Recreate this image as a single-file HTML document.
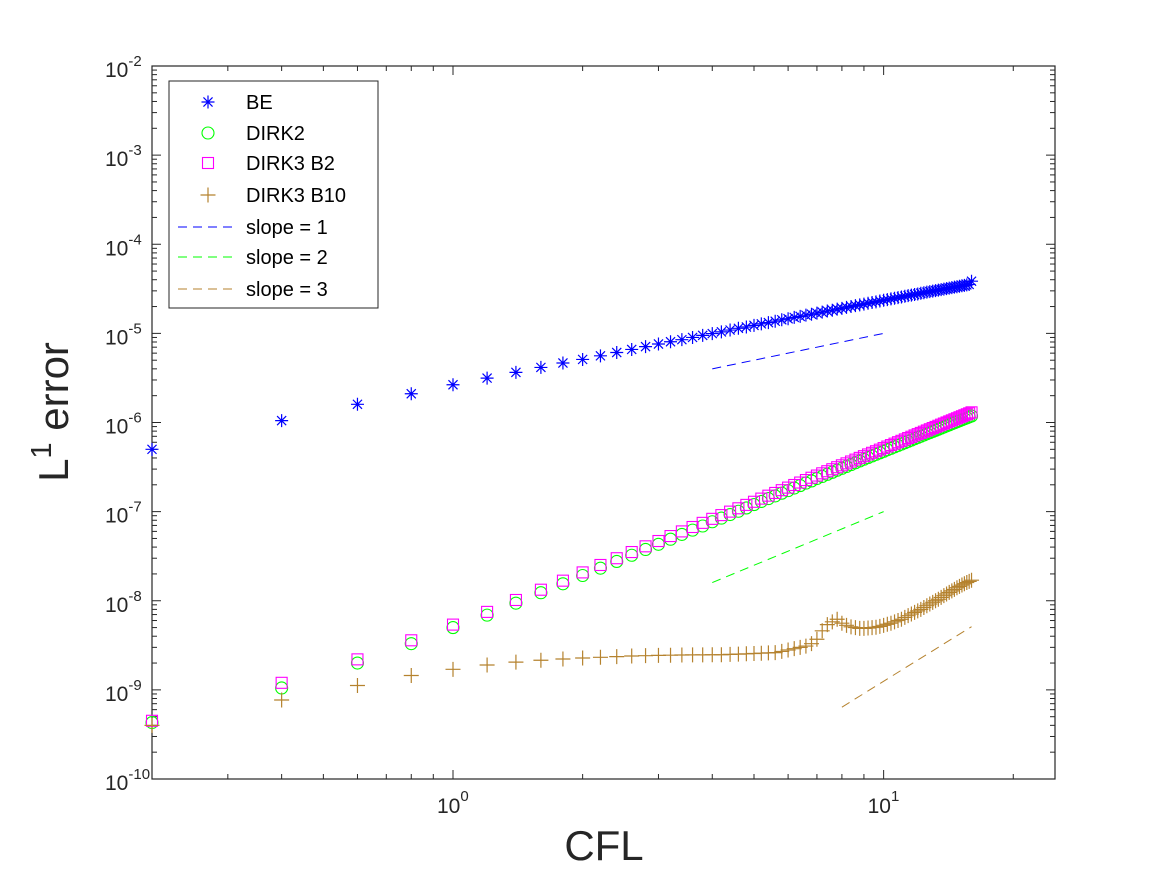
<!DOCTYPE html>
<html><head><meta charset="utf-8"><style>
html,body{margin:0;padding:0;background:#fff;}
svg{display:block;font-family:"Liberation Sans",Arial,sans-serif;}
</style></head><body>
<svg id="chart" width="1167" height="875" viewBox="0 0 1167 875" xmlns="http://www.w3.org/2000/svg">
<rect x="0" y="0" width="1167" height="875" fill="#fff"/>
<g id="plot"></g>
</svg>
<script>
const cfl = [0.2,0.4,0.6,0.8,1.0,1.2,1.4,1.6,1.8,2.0,2.2,2.4,2.6,2.8,3.0,3.2,3.4,3.6,3.8,4.0,4.2,4.4,4.6,4.8,5.0,5.2,5.4,5.6,5.8,6.0,6.2,6.4,6.6,6.8,7.0,7.2,7.4,7.6,7.8,8.0,8.2,8.4,8.6,8.8,9.0,9.2,9.4,9.6,9.8,10.0,10.2,10.4,10.6,10.8,11.0,11.2,11.4,11.6,11.8,12.0,12.2,12.4,12.6,12.8,13.0,13.2,13.4,13.6,13.8,14.0,14.2,14.4,14.6,14.8,15.0,15.2,15.4,15.6,15.8,16.0];
// BE in units of 1e-6
const beVals = [0.5,1.05,1.6,2.1,2.65,3.15,3.65,4.15,4.65,5.1,5.6,6.1,6.6,7.1,7.6,8.05,8.5,9.0,9.5,9.95,10.4,10.9,11.4,11.8,12.3,12.8,13.2,13.7,14.2,14.6,15.1,15.5,16.0,16.4,16.9,17.3,17.8,18.2,18.7,19.1,19.6,20.0,20.5,20.9,21.3,21.8,22.2,22.6,23.1,23.5,23.9,24.4,24.8,25.2,25.6,26.1,26.5,26.9,27.3,27.7,28.2,28.6,29.0,29.4,29.8,30.2,30.6,31.0,31.4,31.8,32.2,32.6,33.0,33.4,33.8,34.2,34.6,35.0,35.4,38.5];
// DIRK2 in units of 1e-9
const dirk2Vals = [0.43,1.05,2.0,3.3,5.0,6.9,9.4,12.3,15.5,19.2,23.2,27.6,32.4,37.6,43,49,55.5,62,69,77,84.6,92.8,101,110,120,130,140,150,161,172,184,196,209,221,235,248,262,276,291,306,321,337,353,370,387,404,421,439,457,475,494,513,532,552,572,593,614,635,657,679,701,724,747,770,793,817,841,866,891,916,942,968,994,1020,1047,1074,1101,1128,1156,1184];
// DIRK3 B2 in units of 1e-9
const b2Vals = [0.45,1.2,2.2,3.6,5.4,7.5,10.2,13.3,16.8,20.8,25.2,30,35.2,40.8,46.8,53.2,60,67.2,74.8,83,91.4,100,109,119,129,140,151,162,174,186,199,212,226,240,254,269,284,299,315,331,348,365,383,401,419,438,457,476,496,516,537,558,579,601,623,646,669,692,716,740,764,789,814,840,866,892,919,946,973,1001,1029,1057,1086,1115,1145,1175,1205,1236,1267,1300];
// DIRK3 B10 in units of 1e-9
const b10Vals = [0.4,0.77,1.12,1.45,1.7,1.9,2.05,2.15,2.22,2.28,2.32,2.36,2.4,2.42,2.44,2.45,2.46,2.47,2.47,2.48,2.48,2.5,2.52,2.54,2.56,2.58,2.6,2.62,2.7,2.8,2.9,3.0,3.1,3.3,3.7,4.6,5.4,5.8,6.2,5.6,5.3,5.1,5.0,4.9,4.9,4.95,5.0,5.05,5.15,5.3,5.45,5.6,5.8,6.0,6.2,6.5,6.8,7.1,7.4,7.7,8.0,8.4,8.8,9.2,9.6,10.0,10.4,10.9,11.4,11.9,12.4,12.9,13.4,14.0,14.5,15.0,15.5,16.0,16.5,17.0];
const slope1X = [4,10], slope1Y = [4e-6,1e-5];
const slope2X = [4,10], slope2Y = [1.6e-8,1e-7];
const slope3X = [8,16], slope3Y = [6.4e-10,5.12e-9];
const yTickExp = [-10,-9,-8,-7,-6,-5,-4,-3,-2];
const xTickExp = [0,1];

const L=152,R=1055,T=66,B=779;
const xMin=Math.log10(0.2), xMax=Math.log10(25), yMin=-10, yMax=-2;
const sx=v=>L+(Math.log10(v)-xMin)/(xMax-xMin)*(R-L);
const sy=v=>B-(Math.log10(v)-yMin)/(yMax-yMin)*(B-T);
const NS="http://www.w3.org/2000/svg";
const g=document.getElementById('plot');
function mk(tag,attrs,parent){const e=document.createElementNS(NS,tag);for(const k in attrs)e.setAttribute(k,attrs[k]);(parent||g).appendChild(e);return e;}

const box=mk('rect',{x:L,y:T,width:R-L,height:B-T,fill:'none',stroke:'#262626','stroke-width':1.2});



for(let e=yMin;e<=yMax;e++){
  const y=sy(Math.pow(10,e));
  const t1=mk('line',{x1:L,y1:y,x2:L+9,y2:y,stroke:'#262626'});
  
  
  mk('line',{x1:R,y1:y,x2:R-9,y2:y,stroke:'#262626'});
  if(e<yMax){for(let m=2;m<=9;m++){const ym=sy(m*Math.pow(10,e));mk('line',{x1:L,y1:ym,x2:L+5,y2:ym,stroke:'#262626'});mk('line',{x1:R,y1:ym,x2:R-5,y2:ym,stroke:'#262626'});}}
}
yTickExp.forEach(e=>{
  const y=sy(Math.pow(10,e));
  const t=mk('text',{x:105,y:y+11,'text-anchor':'start','font-size':21,fill:'#262626'});
  
  
  t.innerHTML='10<tspan dy="-11" font-size="15">'+e+'</tspan>';
});
for(let e=-1;e<=1;e++){for(let m=1;m<=9;m++){const v=m*Math.pow(10,e);if(v<0.2||v>25)continue;const x=sx(v);const len=m===1?9:5;
  const tk=mk('line',{x1:x,y1:B,x2:x,y2:B-len,stroke:'#262626'});
  
  
  mk('line',{x1:x,y1:T,x2:x,y2:T+len,stroke:'#262626'});}}
xTickExp.forEach(e=>{
  const x=sx(Math.pow(10,e));
  const t=mk('text',{x:x-16,y:813,'text-anchor':'start','font-size':21,fill:'#262626'});
  
  
  t.innerHTML='10<tspan dy="-12" font-size="15">'+e+'</tspan>';
});
const xt=mk('text',{x:604,y:860,'text-anchor':'middle','font-size':42,fill:'#262626'});


xt.textContent='CFL';
const yt=mk('text',{x:0,y:0,'text-anchor':'middle','font-size':42,fill:'#262626',transform:'translate(68,412) rotate(-90)'});


yt.innerHTML='L<tspan dy="-17" font-size="29">1</tspan><tspan dy="17"> error</tspan>';

function star(x,y,c,p){const r=6.5,d=r*0.7;mk('path',{d:`M${x-r},${y}H${x+r}M${x},${y-r}V${y+r}M${x-d},${y-d}L${x+d},${y+d}M${x-d},${y+d}L${x+d},${y-d}`,stroke:c,'stroke-width':1.2,fill:'none'},p);}
function circ(x,y,c,p){mk('circle',{cx:x,cy:y,r:6,stroke:c,fill:'none','stroke-width':1.1},p);}
function sq(x,y,c,p){mk('rect',{x:x-5.5,y:y-5.5,width:11,height:11,stroke:c,fill:'none','stroke-width':1.1},p);}
function plus(x,y,c,p){mk('path',{d:`M${x-7.5},${y}H${x+7.5}M${x},${y-7.5}V${y+7.5}`,stroke:c,fill:'none','stroke-width':1.2},p);}
function series(name,vals,scale,fn,c){
  const sg=mk('g',{});
  
  
  vals.forEach((v,i)=>fn(sx(cfl[i]),sy(v*scale),c,sg));
}
series('series-be',beVals,1e-6,star,'#0000ff');
series('series-dirk2',dirk2Vals,1e-9,circ,'#00ff00');
series('series-dirk3-b2',b2Vals,1e-9,sq,'#ff00ff');
series('series-dirk3-b10',b10Vals,1e-9,plus,'#b5822e');
function slope(name,xs,ys,c){const l=mk('line',{x1:sx(xs[0]),y1:sy(ys[0]),x2:sx(xs[1]),y2:sy(ys[1]),stroke:c,'stroke-dasharray':'9,6'});
  
  }
slope('slope-1-line',slope1X,slope1Y,'#0000ff');
slope('slope-2-line',slope2X,slope2Y,'#00ff00');
slope('slope-3-line',slope3X,slope3Y,'#b5822e');

const lg=mk('g',{});


mk('rect',{x:169,y:81,width:209,height:227,fill:'#fff',stroke:'#262626'},lg);
const labels=['BE','DIRK2','DIRK3 B2','DIRK3 B10','slope = 1','slope = 2','slope = 3'];
const ly=[102,133,163,195,227,257,289];
const fns=[star,circ,sq,plus];const cols=['#0000ff','#00ff00','#ff00ff','#b5822e'];
labels.forEach((lab,i)=>{
  const eg=mk('g',{},lg);
  
  
  if(i<4)fns[i](208,ly[i],cols[i],eg);
  else mk('line',{x1:178,y1:ly[i],x2:236,y2:ly[i],stroke:['#0000ff','#00ff00','#b5822e'][i-4],'stroke-dasharray':'9,6'},eg);
  const t=mk('text',{x:246,y:ly[i]+7,'font-size':20,fill:'#000'},eg);
  t.textContent=lab;
});
</script>
</body></html>
